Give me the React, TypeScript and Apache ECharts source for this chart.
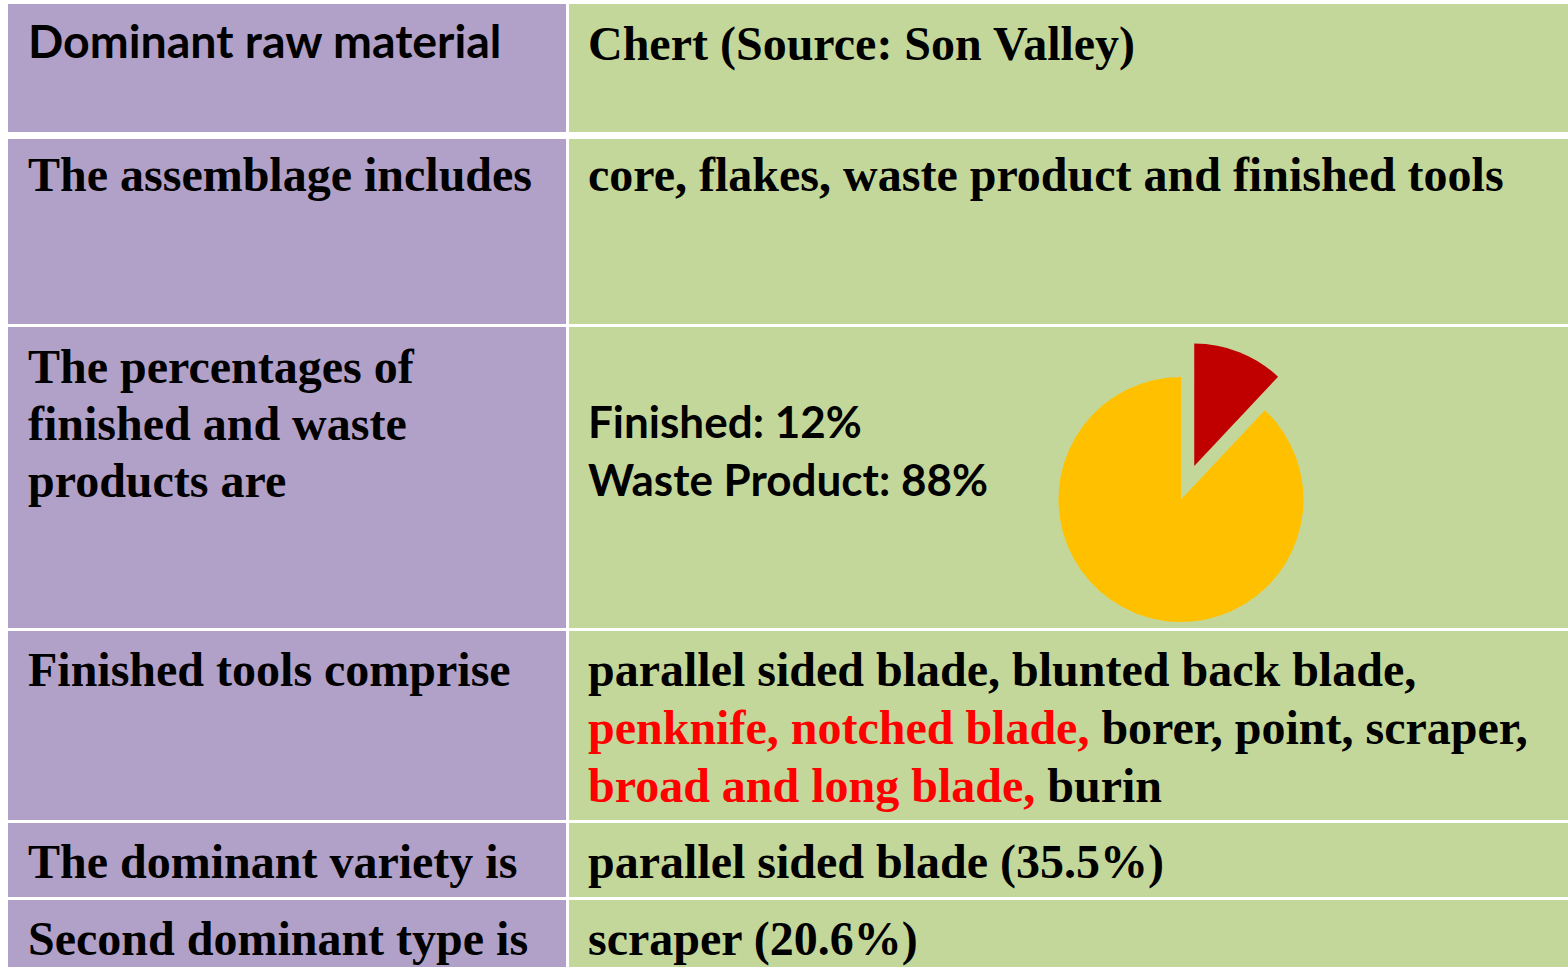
import React, { useEffect, useRef } from "react";
import * as echarts from "echarts";

const W = 1568;
const H = 967;

const rowLabels = [
  ["Dominant raw material"],
  ["The assemblage includes"],
  ["The percentages of", "finished and waste", "products are"],
  ["Finished tools comprise"],
  ["The dominant variety is"],
  ["Second dominant type is"],
];

const rowValues = [
  ["Chert (Source: Son Valley)"],
  ["core, flakes, waste product and finished tools"],
  ["Finished: 12%", "Waste Product: 88%"],
  [
    "parallel sided blade, blunted back blade,",
    "{r|penknife, notched blade,} borer, point, scraper,",
    "{r|broad and long blade,} burin",
  ],
  ["parallel sided blade (35.5%)"],
  ["scraper (20.6%)"],
];

const pieNames = ["Finished", "Waste Product"];
const pieValues = [12, 88];
const pieColors = ["#C00000", "#FFC000"];

// layout
const rowTops = [4, 139, 327, 631, 823, 900];
const rowBottoms = [132, 324, 628, 820, 897, 967];
const leftX0 = 8;
const leftX1 = 566;
const rightX0 = 569;
const rightX1 = 1568;

const PURPLE = "#B1A0C7";
const GREEN = "#C4D79B";

const SERIF = "'Liberation Serif', 'Times New Roman', serif";
const SANS = "Lato, 'Noto Sans', sans-serif";

export default function App() {
  const ref = useRef<HTMLDivElement>(null);
  useEffect(() => {
    if (!ref.current) return;
    const chart = echarts.init(ref.current, undefined, { renderer: "svg" });
    const graphics: any[] = [];
    for (let i = 0; i < rowTops.length; i++) {
      graphics.push({
        type: "rect",
        shape: { x: leftX0, y: rowTops[i], width: leftX1 - leftX0, height: rowBottoms[i] - rowTops[i] },
        style: { fill: PURPLE },
        z: 0,
      });
      graphics.push({
        type: "rect",
        shape: { x: rightX0, y: rowTops[i], width: rightX1 - rightX0, height: rowBottoms[i] - rowTops[i] },
        style: { fill: GREEN },
        z: 0,
      });
    }
    const textEl = (txt: string, x: number, baseline: number, sans: boolean, size: number) => {
      const shift = sans ? 0.387 * size : 0.3375 * size;
      return {
        type: "text",
        x,
        y: baseline - shift,
        z: 10,
        style: {
          text: txt,
          fill: "#000000",
          fontSize: size,
          fontWeight: "bold",
          fontFamily: sans ? SANS : SERIF,
          verticalAlign: "middle",
          align: "left",
          rich: {
            r: { fill: "#FF0000", fontSize: size, fontWeight: "bold", fontFamily: sans ? SANS : SERIF },
          },
        },
      };
    };
    // left column
    graphics.push(textEl(rowLabels[0][0], 28, 58, true, 46.5));
    graphics.push(textEl(rowLabels[1][0], 28, 191, false, 48));
    rowLabels[2].forEach((t, k) => graphics.push(textEl(t, 28, 383 + k * 57, false, 48)));
    graphics.push(textEl(rowLabels[3][0], 28, 686, false, 48));
    graphics.push(textEl(rowLabels[4][0], 28, 878, false, 48));
    graphics.push(textEl(rowLabels[5][0], 28, 955, false, 48));
    // right column
    graphics.push(textEl(rowValues[0][0], 588, 60, false, 48));
    graphics.push(textEl(rowValues[1][0], 588, 191, false, 48));
    rowValues[2].forEach((t, k) => graphics.push(textEl(t, 588, 438 + k * 58, true, 44)));
    rowValues[3].forEach((t, k) => graphics.push(textEl(t, 588, 686 + k * 58, false, 48)));
    graphics.push(textEl(rowValues[4][0], 588, 878, false, 48));
    graphics.push(textEl(rowValues[5][0], 588, 955, false, 48));

    chart.setOption({
      animation: false,
      backgroundColor: "#FFFFFF",
      graphic: { elements: graphics },
      series: [
        {
          type: "pie",
          center: [1181, 499.5],
          radius: 122.5,
          startAngle: 90,
          clockwise: true,
          selectedMode: "single",
          selectedOffset: 36,
          label: { show: false },
          labelLine: { show: false },
          emphasis: { disabled: true },
          silent: true,
          z: 20,
          data: pieNames.map((n, i) => ({
            name: n,
            value: pieValues[i],
            selected: i === 0,
            itemStyle: { color: pieColors[i], borderWidth: 0 },
          })),
        },
      ],
    });
    return () => chart.dispose();
  }, []);
  return (
    <div
      ref={ref}
      style={{ position: "absolute", left: 0, top: 0, width: W, height: H }}
    />
  );
}
